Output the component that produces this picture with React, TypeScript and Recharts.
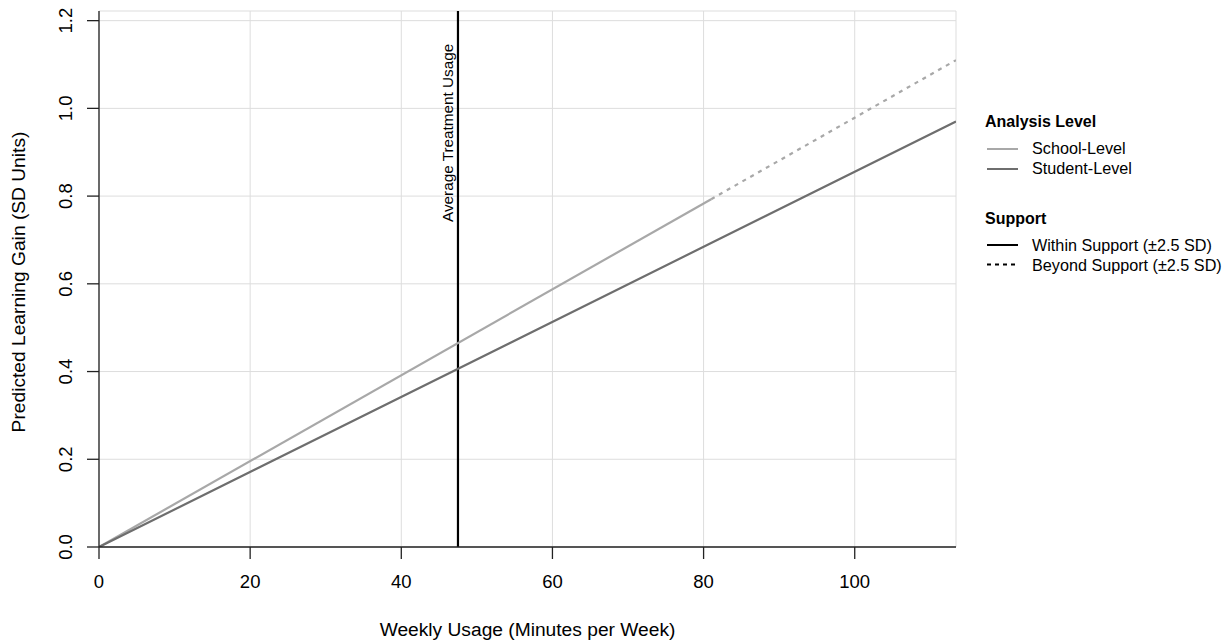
import {
  CartesianGrid,
  Line,
  LineChart,
  ReferenceLine,
  XAxis,
  YAxis,
} from 'recharts'

// weekly usage (minutes) at the points where the lines change style
const usage = [0, 81, 113.4]
const schoolWithin = [0, 0.793, null]
const schoolBeyond = [null, 0.793, 1.11]
const studentLevel = [0, 0.693, 0.97]

const xTicks = [0, 20, 40, 60, 80, 100]
const yTicks = [0, 0.2, 0.4, 0.6, 0.8, 1.0, 1.2]
const averageUsage = 47.5

const levelLabels = ['School-Level', 'Student-Level']
const supportLabels = ['Within Support (±2.5 SD)', 'Beyond Support (±2.5 SD)']

const data = usage.map((u, i) => ({
  usage: u,
  schoolWithin: schoolWithin[i],
  schoolBeyond: schoolBeyond[i],
  student: studentLevel[i],
}))

const FONT = '"Liberation Sans", Arial, Helvetica, sans-serif'
const SCHOOL = '#a8a8a8'
const STUDENT = '#6e6e6e'
const AXIS = '#222222'

const renderYTick = ({ x, y, payload }: any) => (
  <text
    transform={`translate(${x - 13}, ${y}) rotate(-90)`}
    textAnchor="middle"
    fontSize={18.5}
    fontFamily={FONT}
    fill="#000"
  >
    {Number(payload.value).toFixed(1)}
  </text>
)

const renderXTitle = ({ viewBox }: any) => (
  <text
    x={viewBox.x + viewBox.width / 2}
    y={636}
    textAnchor="middle"
    fontSize={19.2}
    fontFamily={FONT}
    fill="#000"
  >
    Weekly Usage (Minutes per Week)
  </text>
)

const renderYTitle = ({ viewBox }: any) => (
  <text
    transform={`translate(25, ${viewBox.y + viewBox.height / 2 + 3}) rotate(-90)`}
    textAnchor="middle"
    fontSize={19.2}
    fontFamily={FONT}
    fill="#000"
  >
    Predicted Learning Gain (SD Units)
  </text>
)

const renderRefLabel = ({ viewBox }: any) => (
  <text
    transform={`translate(${viewBox.x - 5}, ${viewBox.y + 211}) rotate(-90)`}
    textAnchor="start"
    fontSize={15.3}
    fontFamily={FONT}
    fill="#000"
  >
    Average Treatment Usage
  </text>
)

function LegendBox() {
  return (
    <svg
      width={251}
      height={300}
      style={{ position: 'absolute', left: 980, top: 0, fontFamily: FONT }}
    >
      <g transform="translate(-980, 0)">
        <text x={985} y={127} fontSize={16} fontWeight="bold" fill="#000">
          Analysis Level
        </text>
        {levelLabels.map((label, i) => (
          <g key={label}>
            <line
              x1={987}
              x2={1018}
              y1={149 + i * 20}
              y2={149 + i * 20}
              stroke={i === 0 ? SCHOOL : STUDENT}
              strokeWidth={2}
            />
            <text x={1032} y={154 + i * 20} fontSize={16.2} fill="#000">
              {label}
            </text>
          </g>
        ))}
        <text x={985} y={224} fontSize={16} fontWeight="bold" fill="#000">
          Support
        </text>
        {supportLabels.map((label, i) => (
          <g key={label}>
            <line
              x1={987}
              x2={1018}
              y1={245 + i * 19.5}
              y2={245 + i * 19.5}
              stroke="#000"
              strokeWidth={2}
              strokeDasharray={i === 0 ? undefined : '4 4'}
            />
            <text x={1032} y={251 + i * 19.5} fontSize={16.2} fill="#000">
              {label}
            </text>
          </g>
        ))}
      </g>
    </svg>
  )
}

export default function App() {
  return (
    <div style={{ position: 'absolute', left: 0, top: 0, width: 1231, height: 644 }}>
      <LineChart
        width={1231}
        height={644}
        data={data}
        margin={{ top: 11, right: 275, bottom: 37, left: 0 }}
        style={{ fontFamily: FONT }}
      >
        <CartesianGrid stroke="#dddddd" strokeWidth={1} />
        <XAxis
          dataKey="usage"
          type="number"
          domain={[0, 113.4]}
          ticks={xTicks}
          allowDataOverflow
          height={60}
          tickSize={12}
          tickMargin={16}
          stroke={AXIS}
          strokeWidth={1.3}
          tick={{ fill: '#000', fontSize: 18.5, fontFamily: FONT }}
          label={renderXTitle}
        />
        <YAxis
          type="number"
          domain={[0, 1.222]}
          ticks={yTicks}
          allowDataOverflow
          width={99}
          tickSize={12}
          stroke={AXIS}
          strokeWidth={1.3}
          tick={renderYTick}
          label={renderYTitle}
        />
        <ReferenceLine
          x={averageUsage}
          stroke="#000"
          strokeWidth={2.2}
          label={renderRefLabel}
        />
        <Line
          dataKey="schoolWithin"
          stroke={SCHOOL}
          strokeWidth={2.2}
          dot={false}
          isAnimationActive={false}
        />
        <Line
          dataKey="schoolBeyond"
          stroke={SCHOOL}
          strokeWidth={2.2}
          strokeDasharray="4 5"
          dot={false}
          isAnimationActive={false}
        />
        <Line
          dataKey="student"
          stroke={STUDENT}
          strokeWidth={2.2}
          dot={false}
          isAnimationActive={false}
        />
      </LineChart>
      <LegendBox />
    </div>
  )
}
